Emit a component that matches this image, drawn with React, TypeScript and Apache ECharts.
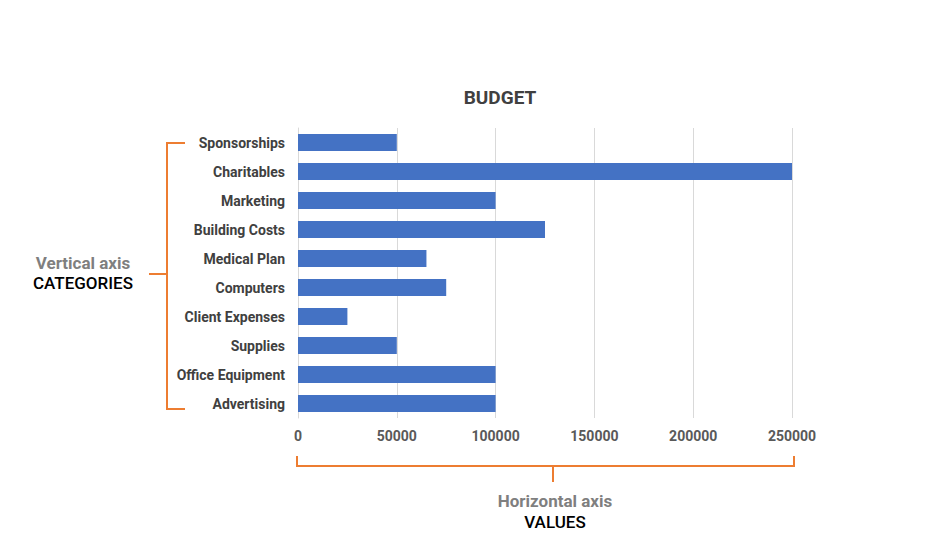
import React, { useEffect, useRef } from "react";
import * as echarts from "echarts";

const categories = [
  "Advertising",
  "Office Equipment",
  "Supplies",
  "Client Expenses",
  "Computers",
  "Medical Plan",
  "Building Costs",
  "Marketing",
  "Charitables",
  "Sponsorships",
];
const budgetValues = [100000, 100000, 50000, 25000, 75000, 65000, 125000, 100000, 250000, 50000];
const valueTicks = [0, 50000, 100000, 150000, 200000, 250000];

const ORANGE = "#ED7D31";

export default function App() {
  const ref = useRef<HTMLDivElement>(null);
  useEffect(() => {
    if (!ref.current) return;
    const chart = echarts.init(ref.current, null, { renderer: "svg" });
    chart.setOption({
      animation: false,
      backgroundColor: "#ffffff",
      title: {
        text: "BUDGET",
        left: 495,
        top: 83,
        textAlign: "center",
        textStyle: { fontFamily: "Roboto", fontWeight: "bold", fontSize: 19, color: "#404040" },
      },
      grid: { left: 298, right: 143, top: 128, height: 290, containLabel: false },
      xAxis: {
        type: "value",
        min: valueTicks[0],
        max: valueTicks[valueTicks.length - 1],
        interval: 50000,
        axisLine: { show: false },
        axisTick: { show: false },
        splitLine: { lineStyle: { color: "#d9d9d9", width: 1 } },
        axisLabel: {
          fontFamily: "Roboto",
          fontWeight: "bold",
          fontSize: 14,
          color: "#595959",
          margin: 11,
          formatter: (v: number) => String(v),
        },
      },
      yAxis: {
        type: "category",
        data: categories,
        axisLine: { show: true, lineStyle: { color: "#d9d9d9" } },
        axisTick: { show: false },
        axisLabel: {
          fontFamily: "Roboto",
          fontWeight: "bold",
          fontSize: 14,
          color: "#404040",
          margin: 13,
        },
      },
      series: [
        {
          type: "bar",
          data: budgetValues,
          barCategoryGap: "41%",
          itemStyle: { color: "#4472C4" },
        },
      ],
      graphic: [
        // left bracket
        { type: "line", shape: { x1: 167, y1: 143, x2: 167, y2: 409 }, style: { stroke: ORANGE, lineWidth: 2 } },
        { type: "line", shape: { x1: 166, y1: 143, x2: 185, y2: 143 }, style: { stroke: ORANGE, lineWidth: 2 } },
        { type: "line", shape: { x1: 166, y1: 409, x2: 185, y2: 409 }, style: { stroke: ORANGE, lineWidth: 2 } },
        { type: "line", shape: { x1: 149, y1: 274, x2: 167, y2: 274 }, style: { stroke: ORANGE, lineWidth: 2 } },
        // bottom bracket
        { type: "line", shape: { x1: 297, y1: 466, x2: 794, y2: 466 }, style: { stroke: ORANGE, lineWidth: 2 } },
        { type: "line", shape: { x1: 297, y1: 456, x2: 297, y2: 467 }, style: { stroke: ORANGE, lineWidth: 2 } },
        { type: "line", shape: { x1: 794, y1: 456, x2: 794, y2: 467 }, style: { stroke: ORANGE, lineWidth: 2 } },
        { type: "line", shape: { x1: 553, y1: 466, x2: 553, y2: 482 }, style: { stroke: ORANGE, lineWidth: 2 } },
        // annotations
        {
          type: "text",
          x: 83,
          y: 263,
          style: {
            text: "Vertical axis",
            fill: "#7f7f7f",
            font: "bold 17px Roboto",
            textAlign: "center",
            textVerticalAlign: "middle",
          },
        },
        {
          type: "text",
          x: 83,
          y: 283,
          style: {
            text: "CATEGORIES",
            fill: "#000000",
            font: "500 17px Roboto",
            textAlign: "center",
            textVerticalAlign: "middle",
          },
        },
        {
          type: "text",
          x: 555,
          y: 501,
          style: {
            text: "Horizontal axis",
            fill: "#7f7f7f",
            font: "bold 17px Roboto",
            textAlign: "center",
            textVerticalAlign: "middle",
          },
        },
        {
          type: "text",
          x: 555,
          y: 522,
          style: {
            text: "VALUES",
            fill: "#000000",
            font: "500 17px Roboto",
            textAlign: "center",
            textVerticalAlign: "middle",
          },
        },
      ],
    });
    return () => chart.dispose();
  }, []);
  return <div ref={ref} style={{ position: "absolute", left: 0, top: 0, width: 935, height: 555 }} />;
}
